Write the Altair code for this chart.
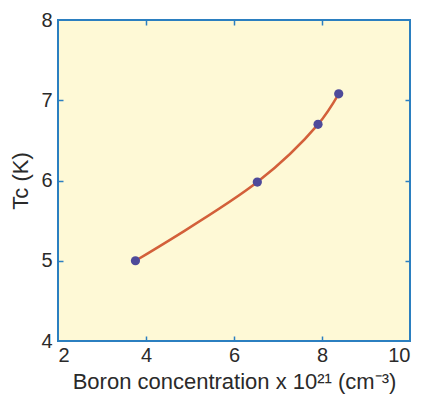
import altair as alt
import pandas as pd

boron = [3.76, 6.53, 7.91, 8.38]
tc = [5.00, 5.98, 6.70, 7.08]

df = pd.DataFrame({"boron": boron, "tc": tc})

W, H = 352, 321
AX = "#2b7fc0"
TXT = "#2a2a2a"
FONT = "Liberation Sans"

xs = alt.Scale(domain=[2, 10], nice=False, zero=False)
ys = alt.Scale(domain=[4, 8], nice=False, zero=False)

base = alt.Chart(df)

line = base.mark_line(color="#d3603a", strokeWidth=2.5, interpolate="catmull-rom").encode(
    x=alt.X("boron:Q", scale=xs,
            axis=alt.Axis(orient="bottom", title="Boron concentration x 10²¹ (cm⁻³)",
                          values=[2, 4, 6, 8, 10], ticks=False, domain=False,
                          labelFontSize=20, titleFontSize=22, labelColor=TXT, titleColor=TXT,
                          labelPadding=4, titlePadding=6, titleFontWeight="normal",
                          labelFont=FONT, titleFont=FONT, grid=False)),
    y=alt.Y("tc:Q", scale=ys,
            axis=alt.Axis(orient="left", title="Tc (K)", values=[4, 5, 6, 7, 8],
                          ticks=False, domain=False,
                          labelFontSize=20, titleFontSize=22, labelColor=TXT, titleColor=TXT,
                          labelPadding=6, titlePadding=8, titleFontWeight="normal",
                          labelFont=FONT, titleFont=FONT, grid=False)),
)

tick_axis = dict(labels=False, domain=False, ticks=True, tickSize=5, tickWidth=1.5,
                 tickColor=AX, title=None, grid=False)

pts = base.mark_circle(color="#4e4a9a", size=85, opacity=1).encode(
    x=alt.X("boron:Q", scale=xs,
            axis=alt.Axis(orient="bottom", offset=-H, values=[4, 6, 8], **tick_axis)),
    y=alt.Y("tc:Q", scale=ys,
            axis=alt.Axis(orient="left", offset=-W, values=[5, 6, 7], **tick_axis)),
)

ghost = base.mark_circle(opacity=0, size=1).encode(
    x=alt.X("boron:Q", scale=xs,
            axis=alt.Axis(orient="top", offset=-H, values=[4, 6, 8], **tick_axis)),
    y=alt.Y("tc:Q", scale=ys,
            axis=alt.Axis(orient="right", offset=-W, values=[5, 6, 7], **tick_axis)),
)

chart = (
    alt.layer(line, ghost, pts)
    .resolve_axis(x="independent", y="independent")
    .properties(width=W, height=H, background="white",
                autosize=alt.AutoSizeParams(type="none"),
                padding={"left": 50, "top": 12, "right": 11, "bottom": 54})
    .configure_view(fill="#fef9d6", stroke=AX, strokeWidth=2)
)

chart.save("out.html", embed_options={"renderer": "svg", "actions": False})
